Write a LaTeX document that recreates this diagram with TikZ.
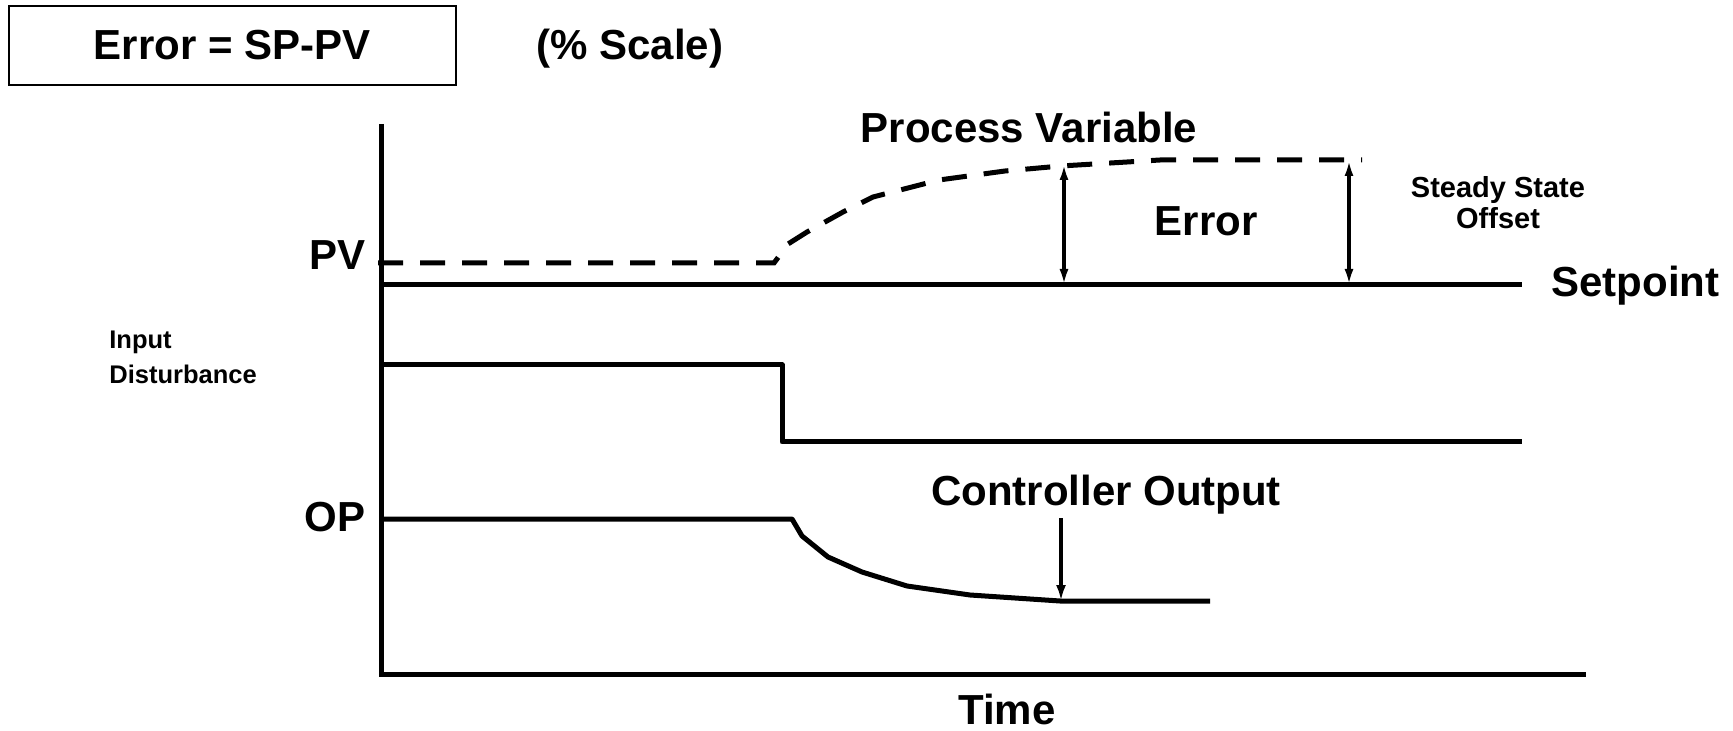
\documentclass[tikz,border=0pt]{standalone}
\usepackage{fontspec}
\setmainfont{Liberation Sans}
\usetikzlibrary{arrows.meta}
\begin{document}
\begin{tikzpicture}[x=0.5pt,y=-0.5pt,
  big/.style={font=\fontsize{21}{25}\selectfont\bfseries, inner sep=0pt},
  mid/.style={font=\fontsize{14.5}{15.5}\selectfont\bfseries, inner sep=0pt, align=center},
  small/.style={font=\fontsize{12.75}{17.5}\selectfont\bfseries, inner sep=0pt, align=left},
  axisline/.style={line width=2.5pt},
  trace/.style={line width=2.5pt, line join=round},
  pvtrace/.style={line width=2.5pt, dash pattern=on 12.5pt off 8.5pt},
  gap/.style={line width=1.9pt, {Latex[length=8pt,width=4.5pt]}-{Latex[length=8pt,width=4.5pt]}},
  pointer/.style={line width=2.3pt, -{Latex[length=8pt,width=5pt]}}
]
\useasboundingbox (0,0) rectangle (1733,731);

% header
\node[draw, line width=1pt, minimum width=223.5pt, minimum height=39.5pt] (eqbox) at (232.5,45.5) {};
\node[big, anchor=base] (eq) at (232,60) {Error = SP-PV};
\node[big, anchor=base] (scale) at (630,60) {(\% Scale)};

% axes
\coordinate (ytop) at (381,124);
\coordinate (origin) at (381,674);
\coordinate (xend) at (1586,674);
\draw[axisline] (ytop) -- (origin) -- (xend);
\node[big, anchor=base] (time) at (1007,724) {Time};

% setpoint
\coordinate (sp0) at (381,285);
\coordinate (sp1) at (1522,285);
\draw[trace] (sp0) -- (sp1);
\node[big, anchor=base west] (splabel) at (1551,297) {Setpoint};

% process variable response
\draw[pvtrace] (378,263) -- (774,263) -- (788,244) -- (807,232) -- (843,212)
  -- (873,197) -- (939,180) -- (1005,171) -- (1061,166) -- (1160,160) -- (1362,160);
\node[big, anchor=base] (pvtitle) at (1029,143) {Process Variable};
\node[big, anchor=base east] (pvlabel) at (366,270) {PV};

% error arrows
\coordinate (e1t) at (1064,164);
\coordinate (e1b) at (1064,285);
\coordinate (e2t) at (1349,160);
\coordinate (e2b) at (1349,285);
\draw[gap] (e1t) -- (e1b);
\draw[gap] (e2t) -- (e2b);
\node[big, anchor=base] (err) at (1206,236) {Error};
\node[mid, anchor=north] (sso) at (1498,176) {Steady State\\Offset};

% input disturbance step
\draw[trace] (381,365) -- (782,365) -- (782,442) -- (1522,442);
\node[small, anchor=north west] (dist) at (109,331) {Input\\Disturbance};

% controller output response
\draw[trace] (381,519) -- (792,519) -- (802,536) -- (828,557) -- (862,572)
  -- (907,586) -- (970,595) -- (1060,601) -- (1210,601);
\node[big, anchor=base east] (oplabel) at (366,531) {OP};
\node[big, anchor=base] (optitle) at (1106,505) {Controller Output};
\coordinate (opt) at (1061,518);
\coordinate (opb) at (1061,601);
\draw[pointer] (opt) -- (opb);
\end{tikzpicture}
\end{document}
